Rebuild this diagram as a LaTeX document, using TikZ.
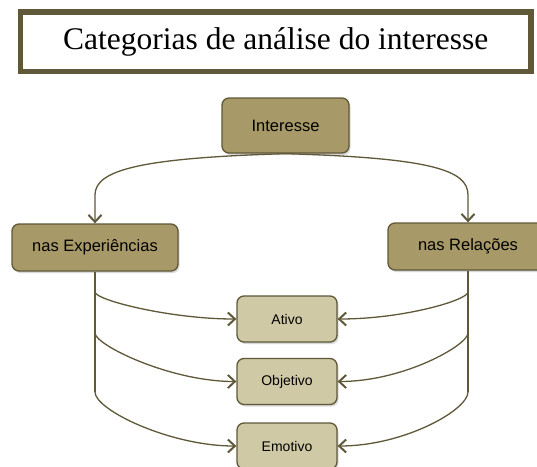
\documentclass[tikz,border=0pt]{standalone}
\usepackage{fontspec}
\setmainfont{Liberation Serif}
\newfontfamily\arialf{Liberation Sans}
\usetikzlibrary{arrows.meta,shadows}
\definecolor{olivedark}{HTML}{5F5839}
\definecolor{khaki}{HTML}{A89A68}
\definecolor{khakilight}{HTML}{D0C9A6}
\begin{document}
\begin{tikzpicture}[x=1pt,y=-1pt,
  shad/.style={drop shadow={shadow xshift=1.5pt,shadow yshift=-2pt,opacity=0.3,fill=gray}},
  box/.style={draw=olivedark,line width=1.3pt,rounded corners=7pt,inner sep=0pt,
    font=\arialf\fontsize{16.5}{18}\selectfont,shad},
  bigbox/.style={box,fill=khaki},
  smallbox/.style={box,fill=khakilight,minimum width=100pt,minimum height=46pt,
    font=\arialf\fontsize{14}{16}\selectfont},
  link/.style={draw=olivedark,line width=1.3pt},
  conn/.style={draw=olivedark,line width=1.3pt,arrows={-Straight Barb[length=7pt,width=13pt,line width=2pt]}}
]
\useasboundingbox (0,0) rectangle (537,466);
\fill[white] (0,0) rectangle (537,466);

\node[draw=olivedark,line width=5.5pt,fill=white,minimum width=510.5pt,minimum height=59.5pt,
  inner sep=0pt,font=\fontsize{31.5}{36}\selectfont,shad] (title) at (275.75,41.75)
  {Categorias de análise do interesse};

\node[bigbox,minimum width=127pt,minimum height=55pt] (int) at (285.5,125.5) {Interesse};
\node[bigbox,minimum width=166pt,minimum height=47pt] (exp) at (95,247.5) {nas Experiências};
\node[bigbox,minimum width=160pt,minimum height=47pt] (rel) at (468,246.5) {nas Relações};
\node[smallbox] (at) at (287,319) {Ativo};
\node[smallbox] (ob) at (287,381.5) {Objetivo};
\node[smallbox] (em) at (287,446) {Emotivo};

\coordinate (eK) at (95,195);
\coordinate (rK) at (468,195);
\coordinate (eEnd) at (95,392);
\coordinate (rEnd) at (468,392);
\coordinate (e1) at (95,292);
\coordinate (e2) at (95,333);
\coordinate (r1) at (468,292);
\coordinate (r2) at (468,333);

\draw[conn] (int.south) .. controls (140,158) and (95,170) .. (eK) -- (exp.north);
\draw[conn] (int.south) .. controls (431,158) and (468,170) .. (rK) -- (rel.north);

\draw[link] (exp.south) -- (eEnd);
\draw[link] (rel.south) -- (rEnd);

\draw[conn] (e1) .. controls (95,300) and (170,319) .. (at.west);
\draw[conn] (e2) .. controls (95,345) and (170,381.5) .. (ob.west);
\draw[conn] (eEnd) .. controls (95,410) and (170,446) .. (em.west);

\draw[conn] (r1) .. controls (468,300) and (404,319) .. (at.east);
\draw[conn] (r2) .. controls (468,345) and (404,381.5) .. (ob.east);
\draw[conn] (rEnd) .. controls (468,410) and (404,446) .. (em.east);
\end{tikzpicture}
\end{document}
